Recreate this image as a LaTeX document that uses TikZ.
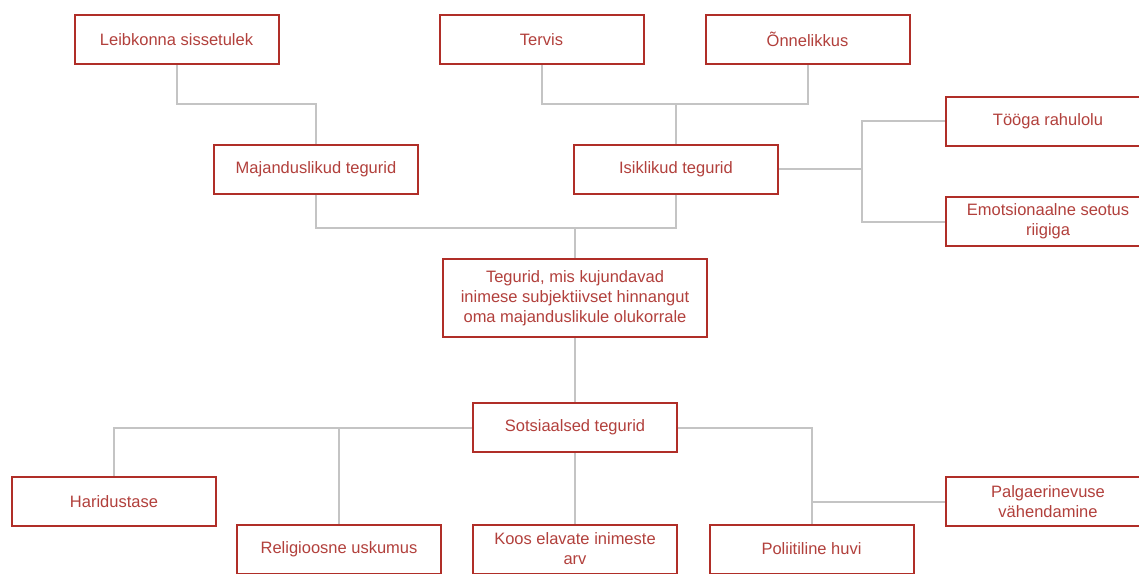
\documentclass[tikz,border=0pt]{standalone}
\usepackage{fontspec}
\setmainfont{Liberation Sans}
\usetikzlibrary{calc}
\definecolor{boxred}{RGB}{176,46,40}
\definecolor{txtred}{RGB}{178,64,60}
\definecolor{linegray}{RGB}{196,196,196}
\tikzset{
  fbox/.style={draw=boxred, line width=2pt, fill=white, text=txtred,
    minimum width=204pt, minimum height=49pt, inner sep=2pt,
    align=center, font=\fontsize{16.5}{20}\selectfont},
  conn/.style={draw=linegray, line width=2pt}
}
\begin{document}
\begin{tikzpicture}[x=1pt,y=-1pt]
\useasboundingbox (0,0) rectangle (1139,573);
% connectors first (behind boxes)
\node[fbox] (leib) at (176.5,39.5) {Leibkonna sissetulek};
\node[fbox] (maj) at (316,169) {Majanduslikud tegurid};
\node[fbox] (terv) at (541.5,39.5) {Tervis};
\node[fbox] (onn) at (807.5,39.5) {Õnnelikkus};
\node[fbox] (isik) at (676,169) {Isiklikud tegurid};
\node[fbox] (tooga) at (1048,121) {Tööga rahulolu};
\node[fbox] (emot) at (1048,221.5) {Emotsionaalne seotus\\riigiga};
\node[fbox, minimum width=264pt, minimum height=78pt] (center) at (575,298) {Tegurid, mis kujundavad\\inimese subjektiivset hinnangut\\oma majanduslikule olukorrale};
\node[fbox] (sots) at (575,427.5) {Sotsiaalsed tegurid};
\node[fbox] (hari) at (114,501.5) {Haridustase};
\node[fbox] (relig) at (339,549) {Religioosne uskumus};
\node[fbox] (koos) at (575,549) {Koos elavate inimeste\\arv};
\node[fbox] (poli) at (811.5,549) {Poliitiline huvi};
\node[fbox] (palg) at (1048,501.5) {Palgaerinevuse\\vähendamine};
\coordinate (j1) at (316,104);
\coordinate (j2) at (676,104);
\coordinate (j3) at (575,228);
\coordinate (j4) at (862,169);
\begin{scope}[on background layer/.style={}]
\draw[conn] (leib.south) |- (j1) -- (maj.north);
\draw[conn] (terv.south) |- (j2);
\draw[conn] (onn.south) |- (j2);
\draw[conn] (j2) -- (isik.north);
\draw[conn] (maj.south) |- (j3);
\draw[conn] (isik.south) |- (j3);
\draw[conn] (j3) -- (center.north);
\draw[conn] (isik.east) -- (j4);
\draw[conn] (j4) |- (tooga.west);
\draw[conn] (j4) |- (emot.west);
\draw[conn] (center.south) -- (sots.north);
\draw[conn] (sots.west) -| (hari.north);
\draw[conn] (relig.north |- sots.west) -- (relig.north);
\draw[conn] (sots.south) -- (koos.north);
\draw[conn] (sots.east) -| (poli.north);
\draw[conn] (poli.north |- palg.west) -- (palg.west);
\end{scope}
\end{tikzpicture}
\end{document}
